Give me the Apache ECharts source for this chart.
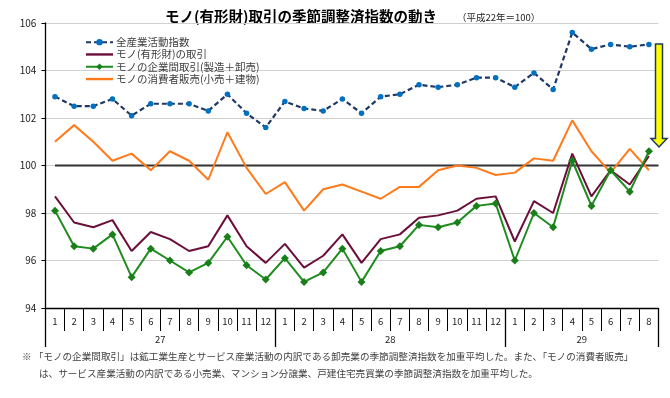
<!DOCTYPE html>
<html>
<head>
<meta charset="utf-8">
<script src="https://cdn.jsdelivr.net/npm/echarts@6/dist/echarts.min.js"></script>
<style>
html,body{margin:0;padding:0;background:#fff;}
#chart{width:670px;height:398px;}
</style>
</head>
<body>
<div id="chart"></div>
<script>
// ---- data ----
const months = ['1','2','3','4','5','6','7','8','9','10','11','12',
                '1','2','3','4','5','6','7','8','9','10','11','12',
                '1','2','3','4','5','6','7','8'];
const years = ['27','28','29'];
const monthsPerYear = [12, 12, 8];
const seriesNames = ['全産業活動指数','モノ(有形財)の取引','モノの企業間取引(製造＋卸売)','モノの消費者販売(小売＋建物)'];
const allIndustry = [102.9,102.5,102.5,102.8,102.1,102.6,102.6,102.6,102.3,103.0,102.2,101.6,
                     102.7,102.4,102.3,102.8,102.2,102.9,103.0,103.4,103.3,103.4,103.7,103.7,
                     103.3,103.9,103.2,105.6,104.9,105.1,105.0,105.1];
const goodsTrade = [98.7,97.6,97.4,97.7,96.4,97.2,96.9,96.4,96.6,97.9,96.6,95.9,
                    96.7,95.7,96.2,97.1,95.9,96.9,97.1,97.8,97.9,98.1,98.6,98.7,
                    96.8,98.5,98.0,100.5,98.7,99.8,99.2,100.4];
const b2bTrade = [98.1,96.6,96.5,97.1,95.3,96.5,96.0,95.5,95.9,97.0,95.8,95.2,
                  96.1,95.1,95.5,96.5,95.1,96.4,96.6,97.5,97.4,97.6,98.3,98.4,
                  96.0,98.0,97.4,100.2,98.3,99.8,98.9,100.6];
const consumerSales = [101.0,101.7,101.0,100.2,100.5,99.8,100.6,100.2,99.4,101.4,99.9,98.8,
                       99.3,98.1,99.0,99.2,98.9,98.6,99.1,99.1,99.8,100.0,99.9,99.6,
                       99.7,100.3,100.2,101.9,100.6,99.7,100.7,99.8];
const baseValue = 100;
const yTicks = [94, 96, 98, 100, 102, 104, 106];

// ---- derived year-boundary axis ----
const boundaryLabels = new Array(months.length + 1).fill('');
const boundaryTickIdx = [0];
let acc = 0;
years.forEach((y, i) => {
  boundaryLabels[acc + monthsPerYear[i] / 2] = y;
  acc += monthsPerYear[i];
  boundaryTickIdx.push(acc);
});
const yearLabelIdx = [];
boundaryLabels.forEach((v, i) => { if (v) yearLabelIdx.push(i); });

const FONT = '"Noto Sans CJK JP", "Noto Sans", sans-serif';
const LINE_ICON = 'path://M0,0H27V2.4H0Z';
const chart = echarts.init(document.getElementById('chart'), null, {renderer: 'canvas'});

const option = {
  backgroundColor: '#fff',
  animation: false,
  textStyle: {fontFamily: FONT},
  grid: {left: 45.4, right: 11.5, top: 23, bottom: 90},
  legend: {
    orient: 'vertical',
    left: 80, top: 31,
    itemWidth: 27, itemHeight: 8, itemGap: 0,
    data: [
      {name: seriesNames[0]},
      {name: seriesNames[1], icon: LINE_ICON},
      {name: seriesNames[2]},
      {name: seriesNames[3], icon: LINE_ICON}
    ],
    textStyle: {fontFamily: FONT, fontSize: 10.5, color: '#404040', lineHeight: 12.3, padding: [0,0,0,-2]}
  },
  xAxis: [
    {
      type: 'category', data: months, boundaryGap: true, position: 'bottom',
      axisLine: {show: true, lineStyle: {color: '#000', width: 1.3}},
      axisTick: {show: true, interval: 0, length: 23, lineStyle: {color: '#000', width: 1}},
      axisLabel: {interval: 0, margin: 9, fontSize: 9.5, color: '#222', fontFamily: FONT},
      splitLine: {show: false}
    },
    {
      type: 'category', data: boundaryLabels, boundaryGap: false, position: 'bottom',
      axisLine: {show: false},
      axisTick: {show: true, length: 39, interval: (i) => boundaryTickIdx.includes(i), lineStyle: {color: '#000', width: 1.3}},
      axisLabel: {show: true, margin: 27, fontSize: 9.5, color: '#222', fontFamily: FONT,
                  interval: (i) => yearLabelIdx.includes(i)},
      splitLine: {show: false}
    },
    {
      type: 'value', min: 0, max: months.length, show: false, position: 'bottom'
    }
  ],
  yAxis: {
    type: 'value', min: yTicks[0], max: yTicks[yTicks.length - 1], interval: 2,
    axisLine: {show: true, lineStyle: {color: '#000', width: 1.3}},
    axisTick: {show: true, length: 4, lineStyle: {color: '#000'}},
    axisLabel: {fontSize: 10, color: '#222', margin: 9, fontFamily: FONT},
    splitLine: {show: true, lineStyle: {color: '#d0d0d0', width: 1}}
  },
  series: [
    {
      name: 'base', type: 'line', xAxisIndex: 2, yAxisIndex: 0,
      data: [[0.5, baseValue], [months.length, baseValue]],
      symbol: 'none', lineStyle: {color: '#333', width: 2.2}, silent: true, z: 1
    },
    {
      name: seriesNames[0], type: 'line', data: allIndustry,
      symbol: 'circle', symbolSize: 5.5,
      lineStyle: {color: '#1F3864', width: 2.2, type: [5, 3]},
      itemStyle: {color: '#0070C0', borderWidth: 0},
      z: 5
    },
    {
      name: seriesNames[1], type: 'line', data: goodsTrade,
      symbol: 'none',
      lineStyle: {color: '#6B0F3A', width: 2},
      itemStyle: {color: '#6B0F3A'},
      z: 3
    },
    {
      name: seriesNames[2], type: 'line', data: b2bTrade,
      symbol: 'diamond', symbolSize: 8,
      lineStyle: {color: '#1E8C1E', width: 2},
      itemStyle: {color: '#1A7F1A', borderWidth: 0},
      z: 4
    },
    {
      name: seriesNames[3], type: 'line', data: consumerSales,
      symbol: 'none',
      lineStyle: {color: '#FF7A1A', width: 2},
      itemStyle: {color: '#FF7A1A'},
      z: 2
    }
  ],
  graphic: [
    {
      type: 'text', left: 165, top: 9,
      style: {text: 'モノ(有形財)取引の季節調整済指数の動き', font: 'bold 14.5px ' + FONT, fill: '#000'}
    },
    {
      type: 'text', left: 457, top: 13,
      style: {text: '（平成22年＝100）', font: '9.5px ' + FONT, fill: '#222'}
    },
    {
      type: 'polygon',
      shape: {points: [[655.5,44],[662.5,44],[662.5,138.5],[667,138.5],[659,147],[651,138.5],[655.5,138.5]]},
      style: {fill: '#FFFF00', stroke: '#1F3864', lineWidth: 1.5},
      z: 100
    },
    {
      type: 'text', left: 22, top: 352,
      style: {text: '※ 「モノの企業間取引」は鉱工業生産とサービス産業活動の内訳である卸売業の季節調整済指数を加重平均した。また、「モノの消費者販売」',
              font: '9.6px ' + FONT, fill: '#404040'}
    },
    {
      type: 'text', left: 39, top: 369,
      style: {text: 'は、サービス産業活動の内訳である小売業、マンション分譲業、戸建住宅売買業の季節調整済指数を加重平均した。',
              font: '9.6px ' + FONT, fill: '#404040'}
    }
  ]
};
chart.setOption(option);
</script>
</body>
</html>
